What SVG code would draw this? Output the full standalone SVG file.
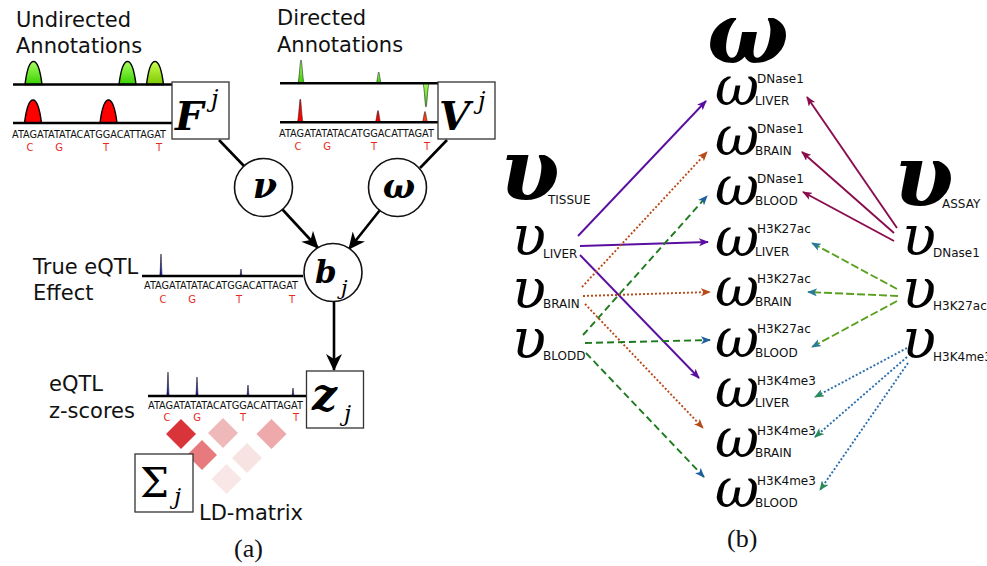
<svg xmlns="http://www.w3.org/2000/svg" width="987" height="566" viewBox="0 0 987 566">
<style>
.lbl{font-family:"DejaVu Sans",sans-serif;font-size:21px;fill:#111}
.seq{font-family:"DejaVu Sans",sans-serif;font-size:10px;fill:#111}
.snp{font-family:"DejaVu Sans",sans-serif;font-size:10px;fill:#e8281e}
.trk{stroke:#000;stroke-width:2.6;fill:none}
.box{fill:#fff;stroke:#333;stroke-width:1.3}
.circ{fill:#fff;stroke:#111;stroke-width:1.6}
.math{font-family:"DejaVu Serif",serif;fill:#000}
.bi{font-weight:bold;font-style:italic}
.it{font-style:italic}
.sub{font-family:"DejaVu Sans",sans-serif;font-size:12px;fill:#111}
.edge{stroke:#000;stroke-width:2.6;fill:none}
.pk{stroke:#000;stroke-width:1.4}
.sp{stroke:#222;stroke-width:0.6}
.cap{font-family:"Liberation Serif","DejaVu Serif",serif;font-size:26px;fill:#111}
.a{fill:none;stroke-width:1.9}
</style>
<defs>
<linearGradient id="gg" x1="0" y1="0" x2="0" y2="1"><stop offset="0" stop-color="#a8ff60"/><stop offset="1" stop-color="#38d000"/></linearGradient>
<linearGradient id="gy" x1="0" y1="0" x2="0" y2="1"><stop offset="0" stop-color="#c8ff50"/><stop offset="1" stop-color="#7cc800"/></linearGradient>
<path id="bell" d="M-8.5 0 C-7 -12 -4.5 -23 0 -23 C4.5 -23 7 -12 8.5 0 Z"/>
<marker id="ab" markerUnits="userSpaceOnUse" markerWidth="18" markerHeight="16" refX="16" refY="8" orient="auto"><path d="M0 0 L17 8 L0 16 L5 8 Z" fill="#000"/></marker>
<marker id="mp" markerUnits="userSpaceOnUse" markerWidth="10" markerHeight="8" refX="9" refY="4" orient="auto"><path d="M0 0 L10 4 L0 8 L2.5 4 Z" fill="#5a0fa0"/></marker>
<marker id="mo" markerUnits="userSpaceOnUse" markerWidth="10" markerHeight="8" refX="9" refY="4" orient="auto"><path d="M0 0 L10 4 L0 8 L2.5 4 Z" fill="#b84a18"/></marker>
<marker id="mg" markerUnits="userSpaceOnUse" markerWidth="10" markerHeight="8" refX="9" refY="4" orient="auto"><path d="M0 0 L10 4 L0 8 L2.5 4 Z" fill="#1d5fa0"/></marker>
<marker id="mm" markerUnits="userSpaceOnUse" markerWidth="10" markerHeight="8" refX="9" refY="4" orient="auto"><path d="M0 0 L10 4 L0 8 L2.5 4 Z" fill="#8a0c4c"/></marker>
<marker id="ml" markerUnits="userSpaceOnUse" markerWidth="10" markerHeight="8" refX="9" refY="4" orient="auto"><path d="M0 0 L10 4 L0 8 L2.5 4 Z" fill="#2a7a9a"/></marker>
<marker id="mb" markerUnits="userSpaceOnUse" markerWidth="10" markerHeight="8" refX="9" refY="4" orient="auto"><path d="M0 0 L10 4 L0 8 L2.5 4 Z" fill="#2a8a5a"/></marker>
</defs>
<rect width="987" height="566" fill="#fff"/>

<!-- ===== Panel (a) ===== -->
<g id="undirected">
<text class="lbl" x="16" y="27">Undirected</text>
<text class="lbl" x="16" y="53">Annotations</text>
<use href="#bell" x="33.5" y="84.5" fill="url(#gg)" class="pk"/>
<use href="#bell" x="127.5" y="84.5" fill="url(#gg)" class="pk"/>
<use href="#bell" x="155" y="84.5" fill="url(#gy)" class="pk"/>
<line class="trk" x1="13" y1="84.5" x2="172" y2="84.5"/>
<use href="#bell" x="33" y="123" fill="#ff0000" class="pk"/>
<use href="#bell" x="108.5" y="123" fill="#ff0000" class="pk"/>
<line class="trk" x1="13" y1="123" x2="172" y2="123"/>
<text class="seq" x="12" y="138" textLength="154" lengthAdjust="spacingAndGlyphs">ATAGATATATACATGGACATTAGAT</text>
<text class="snp" x="30" y="151" text-anchor="middle">C</text>
<text class="snp" x="59" y="151" text-anchor="middle">G</text>
<text class="snp" x="106" y="151" text-anchor="middle">T</text>
<text class="snp" x="159" y="151" text-anchor="middle">T</text>
</g>

<g id="directed">
<text class="lbl" x="277" y="25">Directed</text>
<text class="lbl" x="277" y="52">Annotations</text>
<path class="sp" fill="url(#gg)" d="M298 83 C299.5 78 300 60 301 60 C302 60 302.5 78 304 83 Z"/>
<path class="sp" fill="url(#gg)" d="M376.5 83 C377.5 80 378 72 378.7 72 C379.4 72 380 80 381 83 Z"/>
<path class="sp" fill="url(#gg)" d="M423 83 C424.5 88 425 107 426 107 C427 107 427.5 88 429 83 Z"/>
<line class="trk" x1="280" y1="83.3" x2="438" y2="83.3"/>
<path class="sp" fill="#ff0000" d="M297.5 122 C299 116 299.5 99 300.3 99 C301.1 99 301.6 116 303 122 Z"/>
<path class="sp" fill="#ff0000" d="M375.5 122 C376.8 118 377.3 110.5 378 110.5 C378.7 110.5 379.2 118 380.5 122 Z"/>
<path class="sp" fill="#ff4010" d="M422.5 122 C423.8 118 424.3 111.5 425 111.5 C425.7 111.5 426.2 118 427.5 122 Z"/>
<line class="trk" x1="280" y1="122.3" x2="438" y2="122.3"/>
<text class="seq" x="279" y="137" textLength="155" lengthAdjust="spacingAndGlyphs">ATAGATATATACATGGACATTAGAT</text>
<text class="snp" x="298" y="150" text-anchor="middle">C</text>
<text class="snp" x="327" y="150" text-anchor="middle">G</text>
<text class="snp" x="374" y="150" text-anchor="middle">T</text>
<text class="snp" x="427" y="150" text-anchor="middle">T</text>
</g>

<g id="true-effect">
<text class="lbl" x="33" y="274">True eQTL</text>
<text class="lbl" x="33" y="300">Effect</text>
<path class="sp" fill="#1010b0" d="M159.8 276 C160.5 270 160.7 254 161 254 C161.3 254 161.5 270 162.2 276 Z"/>
<path class="sp" fill="#1010b0" d="M240 276 C240.5 273 240.7 269 241 269 C241.3 269 241.5 273 242 276 Z"/>
<line class="trk" x1="142" y1="276" x2="303" y2="276"/>
<text class="seq" x="144" y="289" textLength="154" lengthAdjust="spacingAndGlyphs">ATAGATATATACATGGACATTAGAT</text>
<text class="snp" x="163" y="303" text-anchor="middle">C</text>
<text class="snp" x="192" y="303" text-anchor="middle">G</text>
<text class="snp" x="239" y="303" text-anchor="middle">T</text>
<text class="snp" x="292" y="303" text-anchor="middle">T</text>
</g>

<g id="zscores">
<text class="lbl" x="49" y="391">eQTL</text>
<text class="lbl" x="49" y="418">z-scores</text>
<path class="sp" fill="#1010b0" d="M166.8 396 C167.5 390 167.7 372 168 372 C168.3 372 168.5 390 169.2 396 Z"/>
<path class="sp" fill="#1010b0" d="M195.8 396 C196.5 390 196.7 377 197 377 C197.3 377 197.5 390 198.2 396 Z"/>
<path class="sp" fill="#1010b0" d="M247 396 C247.5 392 247.7 385 248 385 C248.3 385 248.5 392 249 396 Z"/>
<path class="sp" fill="#1010b0" d="M292 396 C292.5 393 292.7 388 293 388 C293.3 388 293.5 393 294 396 Z"/>
<line class="trk" x1="148" y1="396" x2="307" y2="396"/>
<text class="seq" x="148" y="409" textLength="155" lengthAdjust="spacingAndGlyphs">ATAGATATATACATGGACATTAGAT</text>
<text class="snp" x="167" y="421" text-anchor="middle">C</text>
<text class="snp" x="197" y="421" text-anchor="middle">G</text>
<text class="snp" x="243" y="421" text-anchor="middle">T</text>
<text class="snp" x="296" y="421" text-anchor="middle">T</text>
</g>

<g id="ld-matrix">
<path fill="#d8343a" d="M181 419 L196 434 L181 449 L166 434 Z"/>
<path fill="#f0b9b9" d="M223 418 L238 433 L223 448 L208 433 Z"/>
<path fill="#eeaaab" d="M271.5 419 L286.5 434 L271.5 449 L256.5 434 Z"/>
<path fill="#e77a7c" d="M202 440 L217 455 L202 470 L187 455 Z"/>
<path fill="#f8e3e3" d="M247 443 L262 458 L247 473 L232 458 Z"/>
<path fill="#f9e6e6" d="M226.5 464 L241.5 479 L226.5 494 L211.5 479 Z"/>
<text class="lbl" x="199" y="520">LD-matrix</text>
</g>

<g id="edges-a">
<line class="edge" x1="219" y1="140" x2="244" y2="166"/>
<line class="edge" x1="282" y1="209" x2="318" y2="248" marker-end="url(#ab)"/>
<line class="edge" x1="447" y1="140" x2="420" y2="168"/>
<line class="edge" x1="380" y1="210" x2="349" y2="249" marker-end="url(#ab)"/>
<line class="edge" x1="334" y1="302" x2="334" y2="370" marker-end="url(#ab)"/>
</g>

<g id="node-F">
<rect class="box" x="172" y="82" width="57" height="57"/>
<text class="math bi" x="175" y="130" font-size="40">F</text>
<text class="math it" x="211" y="107" font-size="24">j</text>
</g>
<g id="node-V">
<rect class="box" x="438" y="82" width="57" height="57"/>
<text class="math bi" x="439" y="130" font-size="40">V</text>
<text class="math it" x="478" y="109" font-size="24">j</text>
</g>
<g id="node-nu">
<circle class="circ" cx="263.5" cy="187.5" r="29"/>
<text class="math bi" x="265" y="198" font-size="35" text-anchor="middle">ν</text>
</g>
<g id="node-omega">
<circle class="circ" cx="397.5" cy="187.5" r="29"/>
<text class="math bi" x="399" y="198" font-size="34" text-anchor="middle">ω</text>
</g>
<g id="node-b">
<circle class="circ" cx="333" cy="272.5" r="29"/>
<text class="math bi" x="315" y="283" font-size="31">b</text>
<text class="math it" x="341" y="295" font-size="21">j</text>
</g>
<g id="node-z">
<rect class="box" x="306.5" y="371" width="57" height="57"/>
<text class="math bi" x="312" y="410" font-size="44">z</text>
<text class="math it" x="344" y="421" font-size="23">j</text>
</g>
<g id="node-sigma">
<rect class="box" x="135" y="454" width="58" height="58"/>
<text class="math" x="140" y="497" font-size="41">Σ</text>
<text class="math it" x="174" y="504" font-size="23">j</text>
</g>
<text class="cap" x="234" y="557">(a)</text>

<!-- ===== Panel (b) ===== -->
<g id="omega-title"><text class="math bi" x="707" y="63" font-size="86">ω</text></g>

<g id="upsilon-tissue"><text class="math bi" x="500" y="200" font-size="86">υ</text><text class="sub" x="548" y="204">TISSUE</text></g>
<g id="upsilon-liver"><text class="math it" x="512" y="255" font-size="56">υ</text><text class="sub" x="543" y="258">LIVER</text></g>
<g id="upsilon-brain"><text class="math it" x="512" y="308" font-size="56">υ</text><text class="sub" x="543" y="308">BRAIN</text></g>
<g id="upsilon-blood"><text class="math it" x="512" y="358" font-size="56">υ</text><text class="sub" x="543" y="360">BLODD</text></g>

<g id="upsilon-assay"><text class="math bi" x="894" y="206" font-size="86">υ</text><text class="sub" x="942" y="208">ASSAY</text></g>
<g id="upsilon-dnase"><text class="math it" x="902" y="255" font-size="56">υ</text><text class="sub" x="933" y="257">DNase1</text></g>
<g id="upsilon-h3k27ac"><text class="math it" x="902" y="308" font-size="56">υ</text><text class="sub" x="933" y="310">H3K27ac</text></g>
<g id="upsilon-h3k4me3"><text class="math it" x="902" y="358" font-size="56">υ</text><text class="sub" x="933" y="361">H3K4me3</text></g>

<g id="w-dnase-liver"><text class="math it" x="715" y="105" font-size="54">ω</text><text class="sub" x="757" y="83">DNase1</text><text class="sub" x="755" y="105">LIVER</text></g>
<g id="w-dnase-brain"><text class="math it" x="715" y="155" font-size="54">ω</text><text class="sub" x="757" y="133">DNase1</text><text class="sub" x="755" y="155">BRAIN</text></g>
<g id="w-dnase-blood"><text class="math it" x="715" y="205" font-size="54">ω</text><text class="sub" x="757" y="183">DNase1</text><text class="sub" x="755" y="205">BLOOD</text></g>
<g id="w-h3k27ac-liver"><text class="math it" x="715" y="256" font-size="54">ω</text><text class="sub" x="757" y="233">H3K27ac</text><text class="sub" x="755" y="256">LIVER</text></g>
<g id="w-h3k27ac-brain"><text class="math it" x="715" y="306" font-size="54">ω</text><text class="sub" x="757" y="283">H3K27ac</text><text class="sub" x="755" y="306">BRAIN</text></g>
<g id="w-h3k27ac-blood"><text class="math it" x="715" y="357" font-size="54">ω</text><text class="sub" x="757" y="333">H3K27ac</text><text class="sub" x="755" y="357">BLOOD</text></g>
<g id="w-h3k4me3-liver"><text class="math it" x="715" y="407" font-size="54">ω</text><text class="sub" x="757" y="385">H3K4me3</text><text class="sub" x="755" y="407">LIVER</text></g>
<g id="w-h3k4me3-brain"><text class="math it" x="715" y="457" font-size="54">ω</text><text class="sub" x="757" y="435">H3K4me3</text><text class="sub" x="755" y="457">BRAIN</text></g>
<g id="w-h3k4me3-blood"><text class="math it" x="715" y="507" font-size="54">ω</text><text class="sub" x="757" y="485">H3K4me3</text><text class="sub" x="755" y="507">BLOOD</text></g>

<g id="edges-b">
<line class="a" stroke="#5a0fa0" x1="578" y1="236" x2="706" y2="101" marker-end="url(#mp)"/>
<line class="a" stroke="#5a0fa0" x1="580" y1="246" x2="708" y2="242" marker-end="url(#mp)"/>
<line class="a" stroke="#5a0fa0" x1="580" y1="255" x2="699" y2="378" marker-end="url(#mp)"/>
<line class="a" stroke="#b84a18" stroke-dasharray="2 2" x1="582" y1="287" x2="707" y2="152" marker-end="url(#mo)"/>
<line class="a" stroke="#b84a18" stroke-dasharray="2 2" x1="583" y1="296" x2="710" y2="292" marker-end="url(#mo)"/>
<line class="a" stroke="#b84a18" stroke-dasharray="2 2" x1="585" y1="304" x2="703" y2="428" marker-end="url(#mo)"/>
<line class="a" stroke="#1d7a1d" stroke-dasharray="7 4" x1="583" y1="335" x2="707" y2="196" marker-end="url(#mg)"/>
<line class="a" stroke="#1d7a1d" stroke-dasharray="7 4" x1="585" y1="343" x2="710" y2="340" marker-end="url(#mg)"/>
<line class="a" stroke="#1d7a1d" stroke-dasharray="7 4" x1="586" y1="353" x2="704" y2="477" marker-end="url(#mg)"/>
<line class="a" stroke="#8a0c4c" x1="897" y1="228" x2="807" y2="97" marker-end="url(#mm)"/>
<line class="a" stroke="#8a0c4c" x1="894" y1="233" x2="802" y2="152" marker-end="url(#mm)"/>
<line class="a" stroke="#8a0c4c" x1="894" y1="241" x2="803" y2="192" marker-end="url(#mm)"/>
<line class="a" stroke="#5aa020" stroke-dasharray="8 3" x1="897" y1="289" x2="812" y2="243" marker-end="url(#ml)"/>
<line class="a" stroke="#5aa020" stroke-dasharray="8 3" x1="898" y1="296" x2="808" y2="292" marker-end="url(#ml)"/>
<line class="a" stroke="#5aa020" stroke-dasharray="8 3" x1="897" y1="301" x2="812" y2="347" marker-end="url(#ml)"/>
<line class="a" stroke="#2a6db0" stroke-dasharray="2 2" x1="907" y1="348" x2="815" y2="397" marker-end="url(#mb)"/>
<line class="a" stroke="#2a6db0" stroke-dasharray="2 2" x1="907" y1="357" x2="815" y2="437" marker-end="url(#mb)"/>
<line class="a" stroke="#2a6db0" stroke-dasharray="2 2" x1="908" y1="363" x2="820" y2="490" marker-end="url(#mb)"/>
</g>
<text class="cap" x="727" y="547">(b)</text>
</svg>
